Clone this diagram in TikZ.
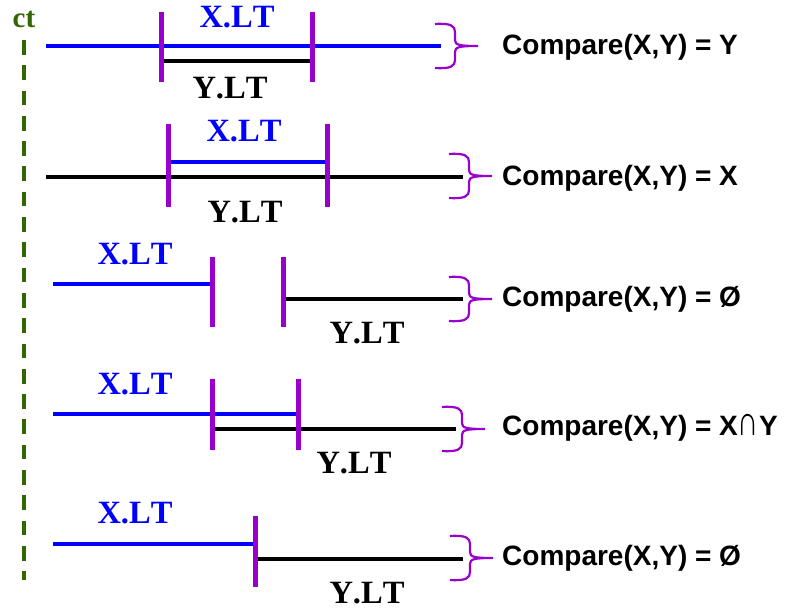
\documentclass[tikz,border=0pt]{standalone}
\usepackage{fontspec}
\setmainfont{Liberation Serif}
\newfontfamily\ltfont[Kerning=Off]{Liberation Serif}
\newfontfamily\resultfont{Liberation Sans}
\usetikzlibrary{positioning}

\definecolor{ctgreen}{RGB}{51,102,0}
\definecolor{boundpurple}{RGB}{153,0,204}

% taller intersection sign, up to cap height
\newcommand{\capcap}{\scalebox{1.05}[1.5]{\mdseries ∩}}

\tikzset{
  xline/.style={blue, line width=3.5pt},
  yline/.style={black, line width=3.5pt},
  bound/.style={boundpurple, line width=5pt},
  ltlabel/.style={inner sep=0pt, font=\ltfont\fontsize{32.5}{32.5}\selectfont\bfseries},
  result/.style={anchor=west, inner sep=0pt, font=\resultfont\fontsize{28}{28}\selectfont\bfseries},
  % curly brace, origin at its tip
  cmpbrace/.pic={
    \draw[boundpurple, line width=2.2pt]
      (-43,-22) .. controls (-27,-23) and (-23,-20) .. (-23,-14) -- (-23,-6)
        .. controls (-23,-1) and (-19,0) .. (0,0)
      (-43,22) .. controls (-27,23) and (-23,20) .. (-23,14) -- (-23,6)
        .. controls (-23,1) and (-19,0) .. (0,0);
  }
}

\begin{document}
\begin{tikzpicture}[x=1pt, y=-1pt]

  \useasboundingbox (0,0) rectangle (785,609);

  % time axis
  \node[text=ctgreen, inner sep=0pt, font=\fontsize{29}{29}\selectfont\bfseries] (ct) at (24,19) {ct};
  \coordinate (ctend) at (24,580);
  \draw[ctgreen, line width=4pt, dash pattern=on 14.7pt off 10.6pt] (24,40) -- (ctend);

  % Y inside X
  \coordinate (xa1) at (46,46);   \coordinate (xb1) at (441,46);
  \coordinate (ya1) at (161,61);  \coordinate (yb1) at (312,61);
  \draw[xline] (xa1) -- (xb1);
  \draw[yline] (ya1) -- (yb1);
  \draw[bound] (161,12) -- (161,82);
  \draw[bound] (312,12) -- (312,82);
  \node[ltlabel, text=blue] (xlt1) at (237,17) {X.LT};
  \node[ltlabel] (ylt1) at (230,88) {Y.LT};
  \pic at (478,46) {cmpbrace};
  \node[result] (res1) at (502,47) {Compare(X,Y) = Y};

  % X inside Y
  \coordinate (ya2) at (46,177);  \coordinate (yb2) at (463,177);
  \coordinate (xa2) at (168,162); \coordinate (xb2) at (327,162);
  \draw[yline] (ya2) -- (yb2);
  \draw[xline] (xa2) -- (xb2);
  \draw[bound] (168,124) -- (168,207);
  \draw[bound] (327,124) -- (327,207);
  \node[ltlabel, text=blue] (xlt2) at (244,131) {X.LT};
  \node[ltlabel] (ylt2) at (245,212) {Y.LT};
  \pic at (492,176) {cmpbrace};
  \node[result] (res2) at (502,178) {Compare(X,Y) = X};

  % disjoint
  \coordinate (xa3) at (53,284);  \coordinate (xb3) at (212,284);
  \coordinate (ya3) at (283,299); \coordinate (yb3) at (463,299);
  \draw[xline] (xa3) -- (xb3);
  \draw[yline] (ya3) -- (yb3);
  \draw[bound] (212,257) -- (212,327);
  \draw[bound] (283,257) -- (283,327);
  \node[ltlabel, text=blue] (xlt3) at (135,254) {X.LT};
  \node[ltlabel] (ylt3) at (367,333) {Y.LT};
  \pic at (492,299) {cmpbrace};
  \node[result] (res3) at (502,299) {Compare(X,Y) = Ø};

  % overlapping
  \coordinate (xa4) at (53,414);  \coordinate (xb4) at (298,414);
  \coordinate (ya4) at (212,429); \coordinate (yb4) at (456,429);
  \draw[xline] (xa4) -- (xb4);
  \draw[yline] (ya4) -- (yb4);
  \draw[bound] (212,379) -- (212,450);
  \draw[bound] (298,379) -- (298,450);
  \node[ltlabel, text=blue] (xlt4) at (135,384) {X.LT};
  \node[ltlabel] (ylt4) at (354,463) {Y.LT};
  \pic at (485,429) {cmpbrace};
  \node[result] (res4) at (502,428) {Compare(X,Y) = X\capcap Y};

  % meeting
  \coordinate (xa5) at (53,544);  \coordinate (xb5) at (255,544);
  \coordinate (ya5) at (255,559); \coordinate (yb5) at (463,559);
  \draw[xline] (xa5) -- (xb5);
  \draw[yline] (ya5) -- (yb5);
  \draw[bound] (255,516) -- (255,587);
  \node[ltlabel, text=blue] (xlt5) at (135,513) {X.LT};
  \node[ltlabel] (ylt5) at (367,593) {Y.LT};
  \pic at (493,558) {cmpbrace};
  \node[result] (res5) at (502,558) {Compare(X,Y) = Ø};

\end{tikzpicture}
\end{document}
